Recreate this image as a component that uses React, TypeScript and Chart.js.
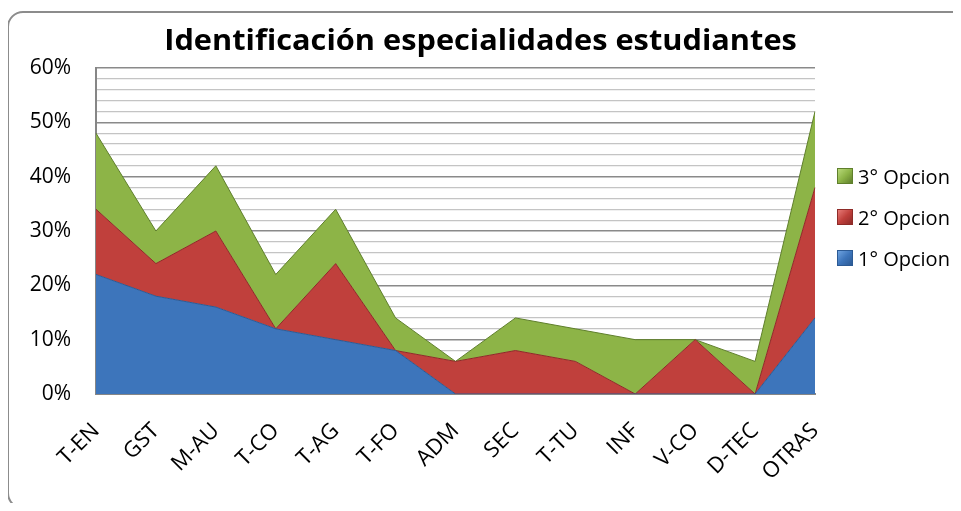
import React, { useEffect, useRef } from "react";
import { Chart, registerables } from "chart.js";

Chart.register(...registerables);

const categories = ["T-EN", "GST", "M-AU", "T-CO", "T-AG", "T-FO", "ADM", "SEC", "T-TU", "INF", "V-CO", "D-TEC", "OTRAS"];
const opcion1 = [22, 18, 16, 12, 10, 8, 0, 0, 0, 0, 0, 0, 14];
const opcion2 = [12, 6, 14, 0, 14, 0, 6, 8, 6, 0, 10, 0, 24];
const opcion3 = [14, 6, 12, 10, 10, 6, 0, 6, 6, 10, 0, 6, 14];
const seriesNames = ["1° Opcion", "2° Opcion", "3° Opcion"];
const yTicks = [0, 10, 20, 30, 40, 50, 60];
const titleText = "Identificación especialidades estudiantes";

const FONT = "'Open Sans', Lato, sans-serif";

const colors = [
  { fill: "#3d75bb", border: "#2c5a94", light: "#6fa3e0" },
  { fill: "#c0403c", border: "#8e2b28", light: "#e67a76" },
  { fill: "#8db447", border: "#5f7f2c", light: "#b8d97a" },
];

export default function App() {
  const ref = useRef<HTMLCanvasElement | null>(null);

  useEffect(() => {
    if (!ref.current) return;
    const data = [opcion1, opcion2, opcion3];
    const chart = new Chart(ref.current, {
      type: "line",
      data: {
        labels: categories,
        datasets: data.map((d, i) => ({
          label: seriesNames[i],
          data: d,
          fill: i === 0 ? "origin" : "-1",
          backgroundColor: colors[i].fill,
          borderColor: colors[i].border,
          borderWidth: 1,
          pointRadius: 0,
          tension: 0,
        })),
      },
      options: {
        animation: false,
        responsive: false,
        maintainAspectRatio: false,
        layout: { padding: { left: 0, top: 68, right: 146, bottom: 0 } },
        plugins: {
          legend: { display: false },
          title: { display: false },
          tooltip: { enabled: false },
        },
        scales: {
          x: {
            type: "category",
            offset: false,
            grid: { display: false, drawTicks: false },
            border: { display: true, color: "#868686", width: 2 },
            ticks: {
              minRotation: 45,
              maxRotation: 45,
              autoSkip: false,
              color: "#000",
              padding: 24,
              font: { family: FONT, size: 22 },
            },
            afterFit: (s: any) => {
              s.height = 117;
            },
          },
          y: {
            stacked: true,
            min: 0,
            max: 60,
            grid: {
              drawTicks: false,
              color: (ctx: any) => (ctx.tick && ctx.tick.value % 10 === 0 ? "#8a8a8a" : "#c4c4c4"),
              lineWidth: (ctx: any) => (ctx.tick && ctx.tick.value % 10 === 0 ? 1.5 : 1.2),
            },
            border: { display: true, color: "#868686", width: 2 },
            ticks: {
              stepSize: 2,
              autoSkip: false,
              padding: 25,
              color: "#000",
              font: { family: FONT, size: 21 },
              callback: (v: any) => (yTicks.includes(Number(v)) ? v + "%" : ""),
            },
            afterFit: (s: any) => {
              s.width = 96;
            },
          },
        },
      },
    });
    return () => chart.destroy();
  }, []);

  const legendItems = [2, 1, 0];

  return (
    <div
      style={{
        position: "relative",
        width: 961,
        height: 511,
        margin: -8,
        overflow: "hidden",
        background: "#fff",
        fontFamily: FONT,
      }}
    >
      <div
        style={{
          position: "absolute",
          left: 7,
          top: 11,
          width: 964,
          height: 498,
          border: "2px solid #8c8c8c",
          borderRadius: 16,
          boxSizing: "border-box",
        }}
      />
      <canvas ref={ref} width={961} height={511} style={{ position: "absolute", left: 0, top: 0 }} />
      <div
        style={{
          position: "absolute",
          left: 0,
          top: 21,
          width: 961,
          textAlign: "center",
          fontWeight: 700,
          fontSize: 29,
          lineHeight: "36px",
          color: "#000",
          whiteSpace: "nowrap",
          transform: "scaleX(1.06)",
          transformOrigin: "480px 0",
        }}
      >
        {titleText}
      </div>
      {legendItems.map((idx, k) => (
        <div
          key={idx}
          style={{
            position: "absolute",
            left: 837,
            top: 164 + k * 41,
            height: 24,
            display: "flex",
            alignItems: "center",
            whiteSpace: "nowrap",
          }}
        >
          <span
            style={{
              display: "inline-block",
              width: 14,
              height: 14,
              background: `linear-gradient(135deg, ${colors[idx].light}, ${colors[idx].fill} 50%, ${colors[idx].border})`,
              border: `1px solid ${colors[idx].border}`,
              marginRight: 5,
            }}
          />
          <span style={{ fontSize: 20, color: "#000" }}>{seriesNames[idx]}</span>
        </div>
      ))}
    </div>
  );
}
